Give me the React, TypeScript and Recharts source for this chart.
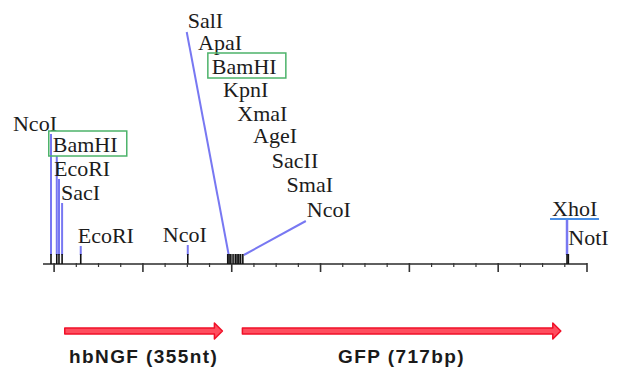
import React from "react";
import { ComposedChart, ReferenceArea, Scatter, XAxis, YAxis } from "recharts";

// restriction sites along the insert (bp)
const SITE_NAMES = ["NcoI", "BamHI", "EcoRI", "SacI", "EcoRI", "NcoI", "SalI", "ApaI", "BamHI", "KpnI", "XmaI", "AgeI", "SacII", "SmaI", "NcoI", "XhoI", "NotI"];
const SITE_BP = [-7, 6, 11, 18, 60, 301, 391, 394, 398, 403, 408, 412, 416, 420, 425, 1155, 1158];

const GENE_NAMES = ["hbNGF (355nt)", "GFP (717bp)"];
const GENE_START = [24, 424];
const GENE_END = [379, 1141];

const AXIS_TICKS = [0, 50, 100, 150, 200, 250, 300, 350, 400, 450, 500, 550, 600, 650, 700, 750, 800, 850, 900, 950, 1000, 1050, 1100, 1150, 1200];

// label placement (px, relative to the cut mark)
const LABEL_DX = [-38, -4, -5, -1, -3, -25, -40, -31, -19, -10, 2, 16, 33, 46, 64, -15, 0];
const LABEL_RISE = [133, 112, 88, 64, 21, 22, 236, 214, 190, 167, 143, 121, 96, 72, 47, 48, 19];
const LEADER = ["v", "v", "v", "v", "v", "v", "d", "n", "n", "n", "n", "n", "n", "n", "d", "u", "n"];
const BOXED = [1, 8];

const siteData = SITE_BP.map((bp, i) => ({ bp, y: 0, i }));

const LEADER_BLUE = "#7878f2";
const SERIF = "'Liberation Serif', 'Times New Roman', serif";

function SiteMark(props: any) {
  const { cx, cy, payload } = props;
  const i = payload.i;
  const tx = cx + LABEL_DX[i];
  const ty = cy - LABEL_RISE[i];
  const boxed = BOXED.includes(i);
  const kind = LEADER[i];
  const leaderTop = boxed ? ty + 4 : ty + 3;
  return (
    <g>
      {kind === "v" && <line x1={cx} y1={cy - 9} x2={cx} y2={leaderTop} stroke={LEADER_BLUE} strokeWidth={2} />}
      {kind === "d" && <line x1={cx + 1} y1={cy - 9} x2={tx - 1} y2={ty + 4} stroke={LEADER_BLUE} strokeWidth={2} />}
      {kind === "u" && (
        <g>
          <line x1={cx} y1={cy - 9} x2={cx} y2={ty + 3} stroke={LEADER_BLUE} strokeWidth={2.5} />
          <line x1={tx - 2} y1={ty + 3} x2={tx + 47} y2={ty + 3} stroke="#4a8fe6" strokeWidth={2} />
        </g>
      )}
      <line x1={cx} y1={cy} x2={cx} y2={cy - 10} stroke="#111" strokeWidth={1.6} />
      {boxed && <rect x={tx - 4} y={ty - 21} width={78} height={25} fill="none" stroke="#4cb36a" strokeWidth={1.5} />}
      <text x={tx} y={ty} fontFamily={SERIF} fontSize={22} fill="#1c1c1c">
        {SITE_NAMES[i]}
      </text>
    </g>
  );
}

function AxisTick(props: any) {
  const { x, y, payload } = props;
  const major = payload.value % 200 === 0;
  return <line x1={x} y1={y - 1} x2={x} y2={y + (major ? 8 : 3)} stroke="#333" strokeWidth={major ? 1.6 : 1.2} />;
}

function GeneArrow(props: any) {
  const { x, y, width, height, name } = props;
  const cy = y + height / 2;
  const end = x + width;
  const pts = [
    [x, cy - 3],
    [end - 8, cy - 3],
    [end - 8, cy - 8],
    [end, cy],
    [end - 8, cy + 8],
    [end - 8, cy + 3],
    [x, cy + 3],
  ]
    .map((p) => p.join(","))
    .join(" ");
  return (
    <g>
      <polygon points={pts} fill="#ff4d5e" stroke="#f01028" strokeWidth={1.5} strokeLinejoin="round" />
      <text
        x={x + width / 2}
        y={y + height + 24}
        textAnchor="middle"
        fontFamily="'Liberation Sans', Arial, sans-serif"
        fontWeight="bold"
        fontSize={19}
        letterSpacing={1.4}
        fill="#1a1a1a"
      >
        {name}
      </text>
    </g>
  );
}

export default function App() {
  return (
    <div style={{ position: "absolute", left: 0, top: 0, width: 618, height: 372, background: "#fff" }}>
      <ComposedChart width={618} height={372} margin={{ top: 0, right: 31, bottom: 0, left: 43 }}>
        <XAxis
          dataKey="bp"
          type="number"
          domain={[-25, 1200]}
          ticks={AXIS_TICKS}
          interval={0}
          height={108}
          tickSize={0}
          tickMargin={0}
          tickLine={false}
          tick={(p: any) => <AxisTick {...p} />}
          axisLine={{ stroke: "#2a2a2a", strokeWidth: 1.6 }}
        />
        <YAxis dataKey="y" type="number" domain={[0, 264]} hide />
        {GENE_NAMES.map((name, i) => (
          <ReferenceArea
            key={name}
            x1={GENE_START[i]}
            x2={GENE_END[i]}
            y1={-59}
            y2={-75}
            ifOverflow="visible"
            shape={(p: any) => <GeneArrow {...p} name={name} />}
          />
        ))}
        <Scatter data={siteData} dataKey="y" isAnimationActive={false} shape={(p: any) => <SiteMark {...p} />} />
      </ComposedChart>
    </div>
  );
}
